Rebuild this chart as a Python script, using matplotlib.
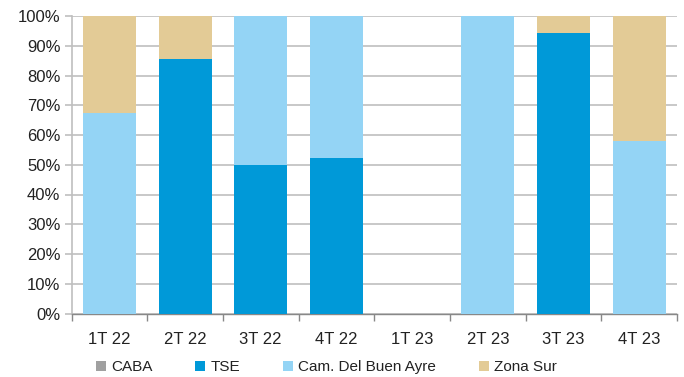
import numpy as np
import matplotlib.pyplot as plt
from matplotlib.ticker import PercentFormatter, FixedLocator

quarters = ["1T 22", "2T 22", "3T 22", "4T 22", "1T 23", "2T 23", "3T 23", "4T 23"]
caba = [0, 0, 0, 0, 0, 0, 0, 0]
tse = [0, 85.5, 50.0, 52.3, 0, 0, 94.3, 0]
buen_ayre = [67.4, 0, 50.0, 47.7, 0, 100.0, 0, 58.1]
zona_sur = [32.6, 14.5, 0, 0, 0, 0, 5.7, 41.9]

series = [
    ("CABA", caba, "#A0A0A0"),
    ("TSE", tse, "#0099D8"),
    ("Cam. Del Buen Ayre", buen_ayre, "#94D4F5"),
    ("Zona Sur", zona_sur, "#E3CB96"),
]

plt.rcParams["font.family"] = ["Liberation Sans", "DejaVu Sans"]
grid_col = "#BFBFBF"
fs = 12

fig = plt.figure(figsize=(6.84, 3.77), dpi=100)
ax = fig.add_axes([71.5 / 684, 1 - 313.5 / 377, (677 - 71.5) / 684, (313.5 - 16) / 377])

x = np.arange(len(quarters))
bottom = np.zeros(len(quarters))
for name, vals, col in series:
    vals = np.array(vals, dtype=float)
    ax.bar(x, vals, 0.7, bottom=bottom, color=col, label=name, zorder=3)
    bottom += vals

ax.set_xlim(-0.5, len(quarters) - 0.5)
ax.set_ylim(0, 100)
ax.set_yticks(np.arange(0, 101, 10))
ax.yaxis.set_major_formatter(PercentFormatter(decimals=0))
ax.grid(axis="y", color=grid_col, linewidth=1.2, zorder=0)

# category labels centred, tick marks on the boundaries
ax.set_xticks(x)
ax.set_xticklabels(quarters)
ax.xaxis.set_minor_locator(FixedLocator(np.arange(-0.5, len(quarters), 1)))
ax.tick_params(axis="x", which="major", length=0, pad=13, labelsize=fs, colors="#222222")
ax.tick_params(axis="x", which="minor", length=5, color="#888888", width=1)
ax.tick_params(axis="y", length=5, color=grid_col, width=1.2, labelsize=fs,
               labelcolor="#222222", pad=3)

for s in ["top", "right"]:
    ax.spines[s].set_visible(False)
ax.spines["left"].set_color(grid_col)
ax.spines["left"].set_linewidth(1.2)
ax.spines["bottom"].set_color("#888888")
ax.spines["bottom"].set_linewidth(1)

leg = fig.legend(loc="center left", bbox_to_anchor=(96 / 684, 1 - 367 / 377), ncol=4,
                 frameon=False, fontsize=11, handlelength=0.65, handleheight=0.65,
                 handletextpad=0.35, columnspacing=2.8, borderpad=0, borderaxespad=0)
for t in leg.get_texts():
    t.set_color("#222222")

fig.savefig("out.png", dpi=100)
